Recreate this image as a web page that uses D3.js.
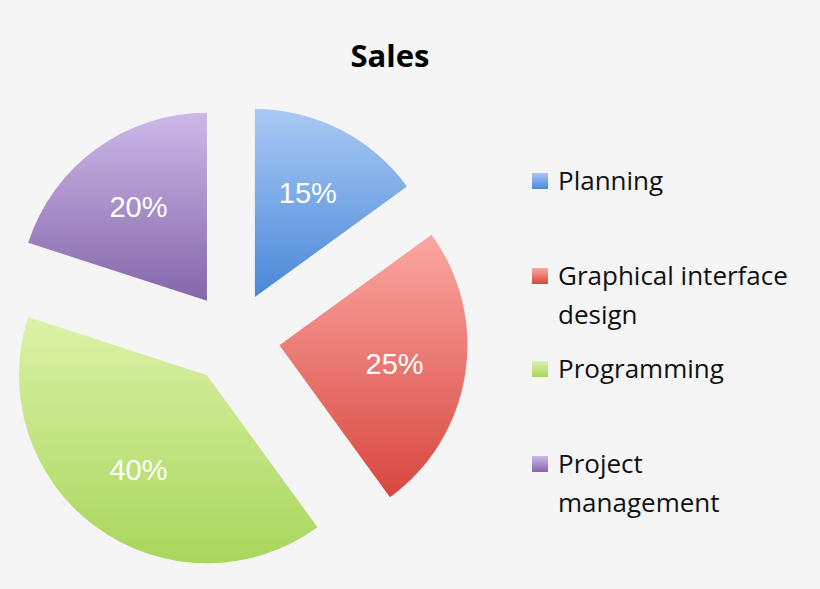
<!DOCTYPE html>
<html lang="en">
<head>
    <meta charset="UTF-8">
    <title>Sales</title>
    <script src="https://d3js.org/d3.v7.min.js"></script>
    <style>
        body { margin: 0; background: #f5f5f5; }
    </style>
</head>
<body>
<svg width="820" height="589"></svg>
<script>
    var categories = ["Planning", "Graphical interface design", "Programming", "Project management"];
    var legendLines = [["Planning"], ["Graphical interface", "design"], ["Programming"], ["Project", "management"]];
    var values = [15, 25, 40, 20];
    var colorsLight = ["#a9c9f4", "#fba7a2", "#dcf2a8", "#cdb8e8"];
    var colorsDark = ["#4a87d8", "#d8463f", "#a8d65c", "#8466aa"];

    var svg = d3.select("svg");
    svg.append("rect").attr("width", 820).attr("height", 589).attr("fill", "#f5f5f5");

    var cx = 234, cy = 338, radius = 188, explode = 46;

    var defs = svg.append("defs");
    categories.forEach(function (c, i) {
        var g = defs.append("linearGradient").attr("id", "grad" + i)
            .attr("x1", 0).attr("y1", 0).attr("x2", 0).attr("y2", 1);
        g.append("stop").attr("offset", "0%").attr("stop-color", colorsLight[i]);
        g.append("stop").attr("offset", "100%").attr("stop-color", colorsDark[i]);
    });

    svg.append("text")
        .attr("x", 390).attr("y", 67)
        .attr("text-anchor", "middle")
        .attr("font-family", "Open Sans, sans-serif")
        .attr("font-weight", "bold")
        .attr("font-size", 31)
        .text("Sales");

    var pie = d3.pie().sort(null).value(function (d) { return d; });
    var arc = d3.arc().innerRadius(0).outerRadius(radius);
    var total = d3.sum(values);

    var slices = svg.selectAll(".slice")
        .data(pie(values))
        .enter().append("g")
        .attr("class", "slice")
        .attr("transform", function (d) {
            var a = (d.startAngle + d.endAngle) / 2;
            return "translate(" + (cx + Math.sin(a) * explode) + "," + (cy - Math.cos(a) * explode) + ")";
        });

    slices.append("path")
        .attr("d", arc)
        .attr("fill", function (d, i) { return "url(#grad" + i + ")"; });

    slices.append("text")
        .attr("transform", function (d) {
            var a = (d.startAngle + d.endAngle) / 2;
            var r = radius * 0.62;
            return "translate(" + (Math.sin(a) * r) + "," + (-Math.cos(a) * r) + ")";
        })
        .attr("text-anchor", "middle")
        .attr("dy", "0.35em")
        .attr("fill", "white")
        .attr("font-family", "Liberation Sans, Arial, sans-serif")
        .attr("font-size", 29)
        .text(function (d) { return Math.round(d.value / total * 100) + "%"; });

    var legendY = [181, 276, 369, 464];
    var legend = svg.selectAll(".legend")
        .data(categories)
        .enter().append("g")
        .attr("class", "legend")
        .attr("transform", function (d, i) { return "translate(532," + legendY[i] + ")"; });

    legend.append("rect")
        .attr("x", 0).attr("y", -8)
        .attr("width", 16).attr("height", 16)
        .attr("fill", function (d, i) { return "url(#grad" + i + ")"; });

    legend.each(function (d, i) {
        var t = d3.select(this).append("text")
            .attr("x", 26).attr("dy", "0.35em")
            .attr("font-family", "Open Sans, sans-serif")
            .attr("font-size", 26)
            .attr("fill", "#111");
        legendLines[i].forEach(function (line, j) {
            t.append("tspan").attr("x", 26).attr("dy", j === 0 ? "0.35em" : 39).text(line);
        });
    });
</script>
</body>
</html>
